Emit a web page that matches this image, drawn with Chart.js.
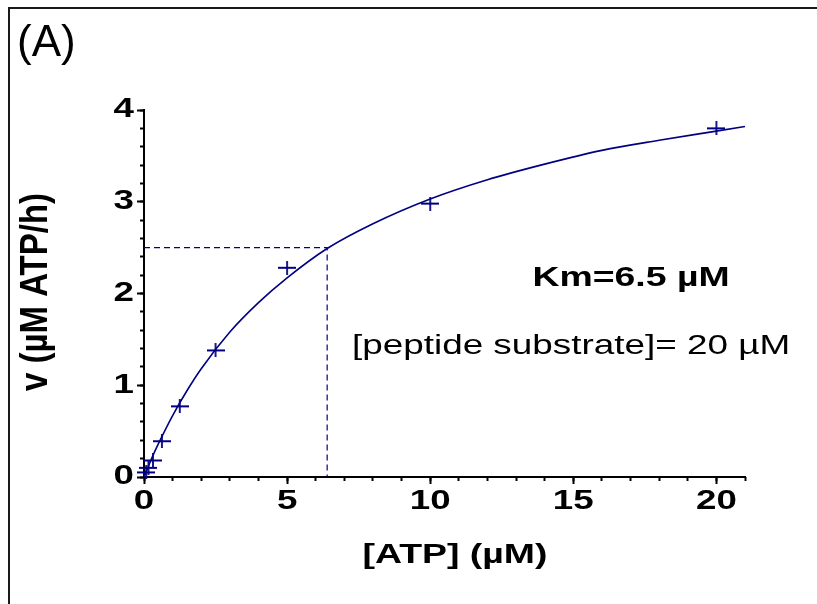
<!DOCTYPE html>
<html><head><meta charset="utf-8">
<script src="https://cdn.jsdelivr.net/npm/chart.js@4.4.1/dist/chart.umd.min.js"></script>
<style>html,body{margin:0;padding:0;background:#fff;overflow:hidden}canvas{display:block}</style>
</head><body>
<canvas id="c" width="817" height="604"></canvas>
<script>
// ---- data ----
const atpConc = [0.078, 0.156, 0.3125, 0.625, 1.25, 2.5, 5, 10, 20];
const rate    = [0.05, 0.10, 0.18, 0.39, 0.77, 1.38, 2.28, 2.98, 3.80];
const fitConc = [0, 0.25, 0.5, 1, 1.5, 2, 3, 4, 5, 6.4, 8, 10, 12, 14, 16, 18, 20, 21];
const fitRate = [0, 0.19, 0.36, 0.67, 0.94, 1.18, 1.58, 1.90, 2.17, 2.49, 2.76, 3.03, 3.24, 3.41, 3.56, 3.67, 3.77, 3.82];
const kmX = [0, 6.4, 6.4];
const kmY = [2.5, 2.5, 0];
const xTicks = [0, 5, 10, 15, 20];
const yTicks = [0, 1, 2, 3, 4];
const xTitle = '[ATP] (\u00b5M)';
const yTitle = 'v (\u00b5M ATP/h)';
const panelLabel = '(A)';
const kmText = 'Km=6.5 \u00b5M';
const condText = '[peptide substrate]= 20 \u00b5M';

const NAVY = '#000080';
const STRETCH = 1.36;
const FONT = '"Liberation Sans", Arial, sans-serif';

function makeCross(w, h, color, lw) {
  const c = document.createElement('canvas');
  c.width = w; c.height = h;
  const g = c.getContext('2d');
  g.strokeStyle = color; g.lineWidth = lw;
  g.beginPath();
  g.moveTo(0, h / 2); g.lineTo(w, h / 2);
  g.moveTo(w / 2, 0); g.lineTo(w / 2, h);
  g.stroke();
  return c;
}
const cross = makeCross(18, 14, NAVY, 1.8);

function stretchLabels(scale) {
  if (!scale || scale._stretched) return;
  const orig = scale.drawLabels.bind(scale);
  scale.drawLabels = function (area) {
    const ctx = this.ctx;
    const ft = ctx.fillText;
    ctx.fillText = function (t, x, y) {
      this.save(); this.translate(x, y); this.scale(STRETCH, 1);
      ft.call(this, t, 0, 0); this.restore();
    };
    try { orig(area); } finally { ctx.fillText = ft; }
  };
  scale._stretched = true;
}

function sText(ctx, txt, x, y, font, align, sx) {
  ctx.save();
  ctx.font = font; ctx.fillStyle = '#000'; ctx.textAlign = align; ctx.textBaseline = 'alphabetic';
  ctx.translate(x, y); ctx.scale(sx, 1);
  ctx.fillText(txt, 0, 0);
  ctx.restore();
}

const decor = {
  id: 'decor',
  afterLayout(chart) { stretchLabels(chart.scales.x); stretchLabels(chart.scales.y); },
  afterDraw(chart) {
    const ctx = chart.ctx;
    ctx.save();
    ctx.strokeStyle = '#1a1a1a'; ctx.lineWidth = 2;
    ctx.strokeRect(9, 8, 1000, 1000);
    ctx.restore();
    sText(ctx, panelLabel, 17, 56, '44px ' + FONT, 'left', 1);
    sText(ctx, xTitle, 455, 563, 'bold 27.5px ' + FONT, 'center', STRETCH);
    // y title, rotated
    ctx.save();
    ctx.font = 'bold 33px ' + FONT; ctx.fillStyle = '#000';
    ctx.textAlign = 'center'; ctx.textBaseline = 'middle';
    ctx.translate(37, 292); ctx.scale(1.15, 1); ctx.rotate(-Math.PI / 2);
    ctx.fillText(yTitle, 0, 0);
    ctx.restore();
    sText(ctx, kmText, 631, 286, 'bold 27.5px ' + FONT, 'center', STRETCH);
    sText(ctx, condText, 352, 354, '27.5px ' + FONT, 'left', 1.34);
  }
};

const tickFont = { family: FONT, size: 27, weight: 'bold' };

new Chart(document.getElementById('c'), {
  type: 'scatter',
  data: {
    datasets: [
      { label: 'fit', data: fitConc.map((x, i) => ({ x, y: fitRate[i] })), showLine: true,
        borderColor: NAVY, borderWidth: 1.6, pointRadius: 0, cubicInterpolationMode: 'monotone', fill: false, order: 2 },
      { label: 'Km', data: kmX.map((x, i) => ({ x, y: kmY[i] })), showLine: true,
        borderColor: NAVY, borderWidth: 1.2, borderDash: [6, 4], pointRadius: 0, tension: 0, fill: false, order: 3 },
      { label: 'data', data: atpConc.map((x, i) => ({ x, y: rate[i] })), showLine: false,
        pointStyle: cross, pointRadius: 8, clip: false, order: 1 }
    ]
  },
  options: {
    responsive: false, animation: false, devicePixelRatio: 1,
    layout: { padding: { left: 0, top: 110, right: 72, bottom: 0 } },
    plugins: { legend: { display: false }, tooltip: { enabled: false }, title: { display: false } },
    scales: {
      x: {
        type: 'linear', position: 'bottom', min: 0, max: 21, weight: 1,
        afterBuildTicks: s => { s.ticks = xTicks.map(v => ({ value: v })); },
        afterFit: s => { s.height = 127; },
        ticks: { font: tickFont, color: '#000', padding: 1, autoSkip: false, maxRotation: 0, includeBounds: false },
        grid: { drawOnChartArea: false, drawTicks: true, tickLength: 7, tickWidth: 2, tickColor: '#000' },
        border: { display: true, color: '#000', width: 2 }
      },
      xMinor: {
        type: 'linear', position: 'bottom', min: 0, max: 21, weight: 0,
        afterFit: s => { s.height = 0; },
        ticks: { display: false, stepSize: 1, autoSkip: false },
        grid: { drawOnChartArea: false, drawTicks: true, tickLength: 4, tickWidth: 2, tickColor: '#000' },
        border: { display: false }
      },
      y: {
        type: 'linear', position: 'left', min: 0, max: 4, weight: 1,
        afterBuildTicks: s => { s.ticks = yTicks.map(v => ({ value: v })); },
        afterFit: s => { s.width = 144; },
        ticks: { font: tickFont, color: '#000', padding: 3, autoSkip: false, includeBounds: false },
        grid: { drawOnChartArea: false, drawTicks: true, tickLength: 7, tickWidth: 2, tickColor: '#000' },
        border: { display: true, color: '#000', width: 2 }
      },
      yMinor: {
        type: 'linear', position: 'left', min: 0, max: 4, weight: 0,
        afterFit: s => { s.width = 0; },
        ticks: { display: false, stepSize: 0.2, autoSkip: false },
        grid: { drawOnChartArea: false, drawTicks: true, tickLength: 4, tickWidth: 2, tickColor: '#000' },
        border: { display: false }
      }
    }
  },
  plugins: [decor]
});
</script>
</body></html>
